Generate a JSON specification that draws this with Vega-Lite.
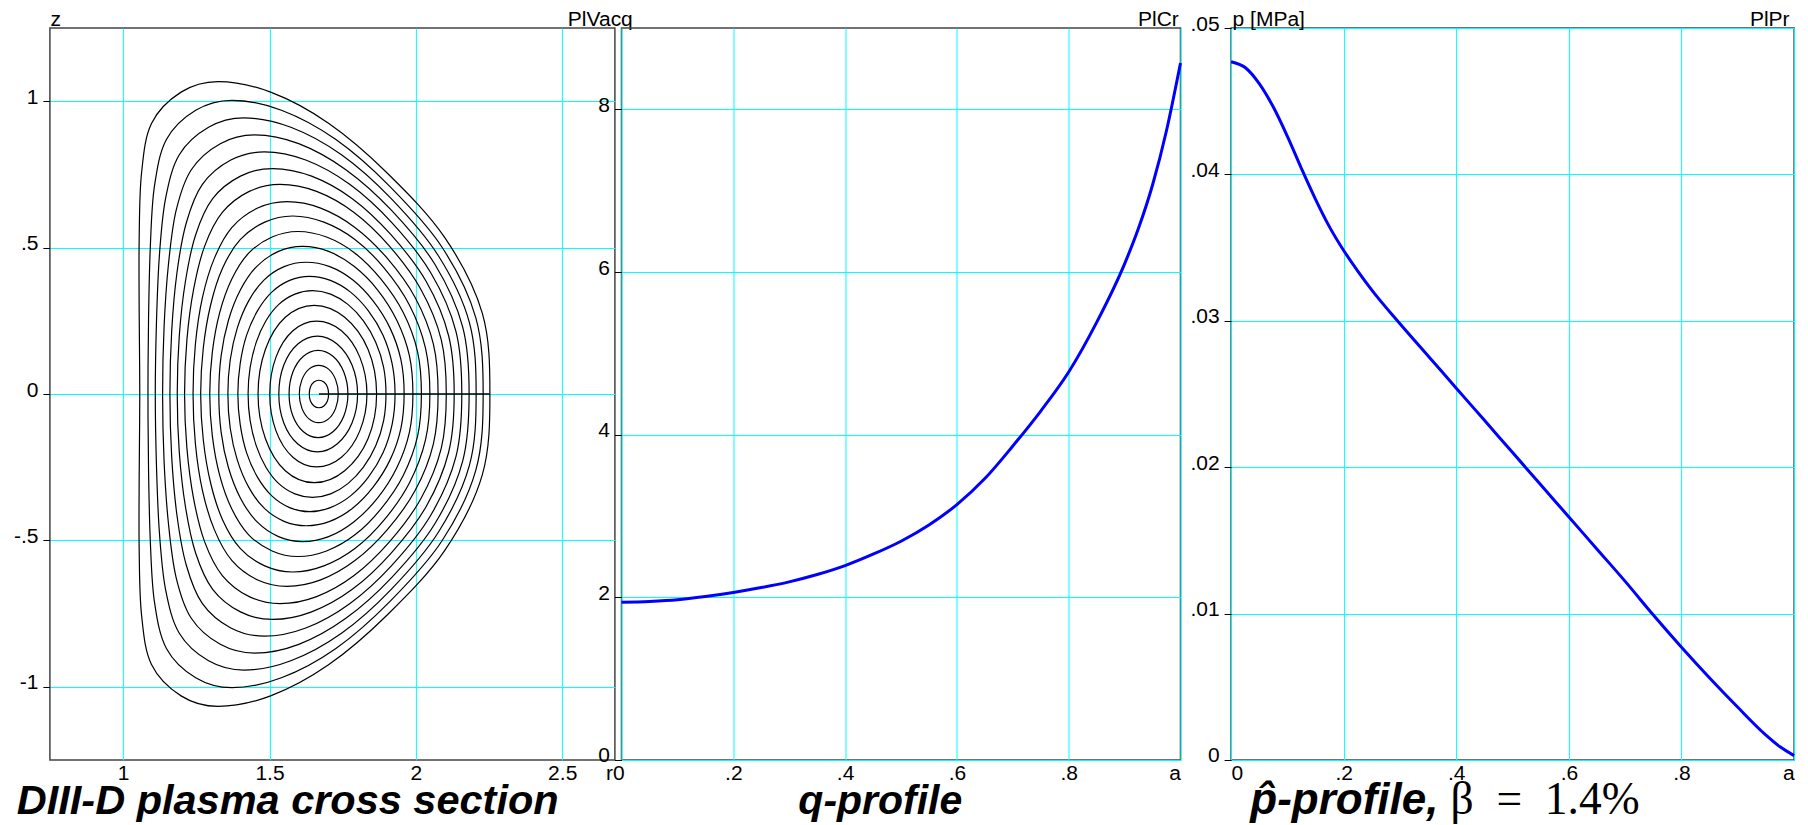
{
"$schema": "https://vega.github.io/schema/vega-lite/v6.json",
"background": "white",
"padding": {"left": 11.9, "top": 7, "right": 0, "bottom": 0},
"config": {
  "font": "Liberation Sans",
  "view": {"stroke": "#444", "strokeWidth": 1.5},
  "axis": {"domain": false, "gridColor": "#00ffff", "gridWidth": 1, "gridOpacity": 1, "labelFont": "Liberation Sans", "labelFontSize": 21, "labelColor": "#000", "tickColor": "#000", "titleFont": "Liberation Sans", "titleFontSize": 21, "titleFontWeight": "normal", "titleColor": "#000"},
  "axisX": {"ticks": false, "labelPadding": 3, "labelFlush": true},
  "axisY": {"tickSize": 7, "labelPadding": 5, "labelBaseline": "alphabetic", "labelOffset": 2}
},
"datasets": {
"cut": [{"R1": 1.669, "R2": 2.253, "z": 0}],
"q": [{"r":0,"q":1.94},{"r":0.05,"q":1.95},{"r":0.1,"q":1.97},{"r":0.15,"q":2.01},{"r":0.2,"q":2.06},{"r":0.25,"q":2.12},{"r":0.3,"q":2.19},{"r":0.35,"q":2.28},{"r":0.4,"q":2.39},{"r":0.45,"q":2.53},{"r":0.5,"q":2.69},{"r":0.55,"q":2.89},{"r":0.6,"q":3.14},{"r":0.65,"q":3.46},{"r":0.7,"q":3.86},{"r":0.75,"q":4.29},{"r":0.8,"q":4.77},{"r":0.85,"q":5.38},{"r":0.9,"q":6.1},{"r":0.925,"q":6.54},{"r":0.95,"q":7.07},{"r":0.975,"q":7.74},{"r":1,"q":8.57}],
"p": [{"r":0,"p":0.0477},{"r":0.025,"p":0.0473},{"r":0.05,"p":0.0462},{"r":0.075,"p":0.0446},{"r":0.1,"p":0.0426},{"r":0.125,"p":0.0404},{"r":0.15,"p":0.0383},{"r":0.175,"p":0.0364},{"r":0.2,"p":0.0348},{"r":0.225,"p":0.0334},{"r":0.25,"p":0.0321},{"r":0.3,"p":0.0298},{"r":0.35,"p":0.0276},{"r":0.4,"p":0.0254},{"r":0.45,"p":0.0232},{"r":0.5,"p":0.021},{"r":0.55,"p":0.0188},{"r":0.6,"p":0.0166},{"r":0.65,"p":0.0144},{"r":0.7,"p":0.0122},{"r":0.75,"p":0.0099},{"r":0.8,"p":0.0077},{"r":0.85,"p":0.0056},{"r":0.9,"p":0.0036},{"r":0.95,"p":0.0017},{"r":0.975,"p":0.0009},{"r":1,"p":0.0003}],
"flux": [
{"c":1,"i":0,"R":1.702,"z":0},{"c":1,"i":1,"R":1.698,"z":0.024},{"c":1,"i":2,"R":1.686,"z":0.041},{"c":1,"i":3,"R":1.669,"z":0.047},{"c":1,"i":4,"R":1.652,"z":0.041},{"c":1,"i":5,"R":1.64,"z":0.024},{"c":1,"i":6,"R":1.636,"z":0},{"c":1,"i":7,"R":1.64,"z":-0.024},{"c":1,"i":8,"R":1.652,"z":-0.041},{"c":1,"i":9,"R":1.669,"z":-0.047},{"c":1,"i":10,"R":1.686,"z":-0.041},{"c":1,"i":11,"R":1.698,"z":-0.024},
{"c":2,"i":0,"R":1.735,"z":0},{"c":2,"i":1,"R":1.726,"z":0.049},{"c":2,"i":2,"R":1.702,"z":0.085},{"c":2,"i":3,"R":1.668,"z":0.098},{"c":2,"i":4,"R":1.635,"z":0.085},{"c":2,"i":5,"R":1.611,"z":0.049},{"c":2,"i":6,"R":1.602,"z":0},{"c":2,"i":7,"R":1.611,"z":-0.049},{"c":2,"i":8,"R":1.635,"z":-0.085},{"c":2,"i":9,"R":1.668,"z":-0.098},{"c":2,"i":10,"R":1.702,"z":-0.085},{"c":2,"i":11,"R":1.726,"z":-0.049},
{"c":3,"i":0,"R":1.768,"z":0},{"c":3,"i":1,"R":1.754,"z":0.075},{"c":3,"i":2,"R":1.717,"z":0.129},{"c":3,"i":3,"R":1.666,"z":0.149},{"c":3,"i":4,"R":1.616,"z":0.129},{"c":3,"i":5,"R":1.58,"z":0.075},{"c":3,"i":6,"R":1.567,"z":0},{"c":3,"i":7,"R":1.58,"z":-0.075},{"c":3,"i":8,"R":1.616,"z":-0.129},{"c":3,"i":9,"R":1.666,"z":-0.149},{"c":3,"i":10,"R":1.717,"z":-0.129},{"c":3,"i":11,"R":1.754,"z":-0.075},
{"c":4,"i":0,"R":1.801,"z":0},{"c":4,"i":1,"R":1.782,"z":0.099},{"c":4,"i":2,"R":1.731,"z":0.171},{"c":4,"i":3,"R":1.664,"z":0.198},{"c":4,"i":4,"R":1.597,"z":0.171},{"c":4,"i":5,"R":1.549,"z":0.099},{"c":4,"i":6,"R":1.532,"z":0},{"c":4,"i":7,"R":1.549,"z":-0.099},{"c":4,"i":8,"R":1.597,"z":-0.171},{"c":4,"i":9,"R":1.664,"z":-0.198},{"c":4,"i":10,"R":1.731,"z":-0.171},{"c":4,"i":11,"R":1.782,"z":-0.099},
{"c":5,"i":0,"R":1.833,"z":0},{"c":5,"i":1,"R":1.809,"z":0.125},{"c":5,"i":2,"R":1.746,"z":0.216},{"c":5,"i":3,"R":1.661,"z":0.249},{"c":5,"i":4,"R":1.58,"z":0.216},{"c":5,"i":5,"R":1.522,"z":0.125},{"c":5,"i":6,"R":1.501,"z":0},{"c":5,"i":7,"R":1.522,"z":-0.125},{"c":5,"i":8,"R":1.58,"z":-0.216},{"c":5,"i":9,"R":1.661,"z":-0.249},{"c":5,"i":10,"R":1.746,"z":-0.216},{"c":5,"i":11,"R":1.809,"z":-0.125},
{"c":6,"i":0,"R":1.866,"z":0},{"c":6,"i":1,"R":1.837,"z":0.152},{"c":6,"i":2,"R":1.757,"z":0.262},{"c":6,"i":3,"R":1.653,"z":0.303},{"c":6,"i":4,"R":1.554,"z":0.262},{"c":6,"i":5,"R":1.486,"z":0.152},{"c":6,"i":6,"R":1.461,"z":0},{"c":6,"i":7,"R":1.486,"z":-0.152},{"c":6,"i":8,"R":1.554,"z":-0.262},{"c":6,"i":9,"R":1.653,"z":-0.303},{"c":6,"i":10,"R":1.757,"z":-0.262},{"c":6,"i":11,"R":1.837,"z":-0.152},
{"c":7,"i":0,"R":1.898,"z":0},{"c":7,"i":1,"R":1.89,"z":0.091},{"c":7,"i":2,"R":1.863,"z":0.177},{"c":7,"i":3,"R":1.821,"z":0.25},{"c":7,"i":4,"R":1.768,"z":0.306},{"c":7,"i":5,"R":1.709,"z":0.341},{"c":7,"i":6,"R":1.647,"z":0.353},{"c":7,"i":7,"R":1.587,"z":0.341},{"c":7,"i":8,"R":1.532,"z":0.306},{"c":7,"i":9,"R":1.488,"z":0.25},{"c":7,"i":10,"R":1.455,"z":0.177},{"c":7,"i":11,"R":1.434,"z":0.091},{"c":7,"i":12,"R":1.427,"z":0},{"c":7,"i":13,"R":1.434,"z":-0.091},{"c":7,"i":14,"R":1.455,"z":-0.177},{"c":7,"i":15,"R":1.488,"z":-0.25},{"c":7,"i":16,"R":1.532,"z":-0.306},{"c":7,"i":17,"R":1.587,"z":-0.341},{"c":7,"i":18,"R":1.647,"z":-0.353},{"c":7,"i":19,"R":1.709,"z":-0.341},{"c":7,"i":20,"R":1.768,"z":-0.306},{"c":7,"i":21,"R":1.821,"z":-0.25},{"c":7,"i":22,"R":1.863,"z":-0.177},{"c":7,"i":23,"R":1.89,"z":-0.091},
{"c":8,"i":0,"R":1.929,"z":0},{"c":8,"i":1,"R":1.919,"z":0.104},{"c":8,"i":2,"R":1.888,"z":0.201},{"c":8,"i":3,"R":1.838,"z":0.284},{"c":8,"i":4,"R":1.777,"z":0.348},{"c":8,"i":5,"R":1.708,"z":0.388},{"c":8,"i":6,"R":1.637,"z":0.402},{"c":8,"i":7,"R":1.569,"z":0.388},{"c":8,"i":8,"R":1.508,"z":0.348},{"c":8,"i":9,"R":1.459,"z":0.284},{"c":8,"i":10,"R":1.422,"z":0.201},{"c":8,"i":11,"R":1.4,"z":0.104},{"c":8,"i":12,"R":1.392,"z":0},{"c":8,"i":13,"R":1.4,"z":-0.104},{"c":8,"i":14,"R":1.422,"z":-0.201},{"c":8,"i":15,"R":1.459,"z":-0.284},{"c":8,"i":16,"R":1.508,"z":-0.348},{"c":8,"i":17,"R":1.569,"z":-0.388},{"c":8,"i":18,"R":1.637,"z":-0.402},{"c":8,"i":19,"R":1.708,"z":-0.388},{"c":8,"i":20,"R":1.777,"z":-0.348},{"c":8,"i":21,"R":1.838,"z":-0.284},{"c":8,"i":22,"R":1.888,"z":-0.201},{"c":8,"i":23,"R":1.919,"z":-0.104},
{"c":9,"i":0,"R":1.96,"z":0},{"c":9,"i":1,"R":1.949,"z":0.117},{"c":9,"i":2,"R":1.912,"z":0.225},{"c":9,"i":3,"R":1.854,"z":0.318},{"c":9,"i":4,"R":1.784,"z":0.39},{"c":9,"i":5,"R":1.706,"z":0.435},{"c":9,"i":6,"R":1.625,"z":0.45},{"c":9,"i":7,"R":1.55,"z":0.435},{"c":9,"i":8,"R":1.482,"z":0.39},{"c":9,"i":9,"R":1.429,"z":0.318},{"c":9,"i":10,"R":1.39,"z":0.225},{"c":9,"i":11,"R":1.366,"z":0.117},{"c":9,"i":12,"R":1.358,"z":0},{"c":9,"i":13,"R":1.366,"z":-0.117},{"c":9,"i":14,"R":1.39,"z":-0.225},{"c":9,"i":15,"R":1.429,"z":-0.318},{"c":9,"i":16,"R":1.482,"z":-0.39},{"c":9,"i":17,"R":1.55,"z":-0.435},{"c":9,"i":18,"R":1.625,"z":-0.45},{"c":9,"i":19,"R":1.706,"z":-0.435},{"c":9,"i":20,"R":1.784,"z":-0.39},{"c":9,"i":21,"R":1.854,"z":-0.318},{"c":9,"i":22,"R":1.912,"z":-0.225},{"c":9,"i":23,"R":1.949,"z":-0.117},
{"c":10,"i":0,"R":1.99,"z":0},{"c":10,"i":1,"R":1.978,"z":0.131},{"c":10,"i":2,"R":1.935,"z":0.252},{"c":10,"i":3,"R":1.869,"z":0.356},{"c":10,"i":4,"R":1.789,"z":0.436},{"c":10,"i":5,"R":1.702,"z":0.487},{"c":10,"i":6,"R":1.613,"z":0.504},{"c":10,"i":7,"R":1.531,"z":0.487},{"c":10,"i":8,"R":1.457,"z":0.436},{"c":10,"i":9,"R":1.401,"z":0.356},{"c":10,"i":10,"R":1.36,"z":0.252},{"c":10,"i":11,"R":1.335,"z":0.131},{"c":10,"i":12,"R":1.327,"z":0},{"c":10,"i":13,"R":1.335,"z":-0.131},{"c":10,"i":14,"R":1.36,"z":-0.252},{"c":10,"i":15,"R":1.401,"z":-0.356},{"c":10,"i":16,"R":1.457,"z":-0.436},{"c":10,"i":17,"R":1.531,"z":-0.487},{"c":10,"i":18,"R":1.613,"z":-0.504},{"c":10,"i":19,"R":1.702,"z":-0.487},{"c":10,"i":20,"R":1.789,"z":-0.436},{"c":10,"i":21,"R":1.869,"z":-0.356},{"c":10,"i":22,"R":1.935,"z":-0.252},{"c":10,"i":23,"R":1.978,"z":-0.131},
{"c":11,"i":0,"R":2.019,"z":0},{"c":11,"i":1,"R":2.006,"z":0.144},{"c":11,"i":2,"R":1.957,"z":0.278},{"c":11,"i":3,"R":1.881,"z":0.392},{"c":11,"i":4,"R":1.792,"z":0.481},{"c":11,"i":5,"R":1.695,"z":0.536},{"c":11,"i":6,"R":1.597,"z":0.555},{"c":11,"i":7,"R":1.509,"z":0.536},{"c":11,"i":8,"R":1.429,"z":0.481},{"c":11,"i":9,"R":1.371,"z":0.392},{"c":11,"i":10,"R":1.33,"z":0.278},{"c":11,"i":11,"R":1.305,"z":0.144},{"c":11,"i":12,"R":1.296,"z":0},{"c":11,"i":13,"R":1.305,"z":-0.144},{"c":11,"i":14,"R":1.33,"z":-0.278},{"c":11,"i":15,"R":1.371,"z":-0.392},{"c":11,"i":16,"R":1.429,"z":-0.481},{"c":11,"i":17,"R":1.509,"z":-0.536},{"c":11,"i":18,"R":1.597,"z":-0.555},{"c":11,"i":19,"R":1.695,"z":-0.536},{"c":11,"i":20,"R":1.792,"z":-0.481},{"c":11,"i":21,"R":1.881,"z":-0.392},{"c":11,"i":22,"R":1.957,"z":-0.278},{"c":11,"i":23,"R":2.006,"z":-0.144},
{"c":12,"i":0,"R":2.048,"z":0},{"c":12,"i":1,"R":2.033,"z":0.157},{"c":12,"i":2,"R":1.978,"z":0.304},{"c":12,"i":3,"R":1.892,"z":0.43},{"c":12,"i":4,"R":1.793,"z":0.527},{"c":12,"i":5,"R":1.686,"z":0.587},{"c":12,"i":6,"R":1.579,"z":0.608},{"c":12,"i":7,"R":1.484,"z":0.587},{"c":12,"i":8,"R":1.4,"z":0.527},{"c":12,"i":9,"R":1.34,"z":0.43},{"c":12,"i":10,"R":1.299,"z":0.304},{"c":12,"i":11,"R":1.274,"z":0.157},{"c":12,"i":12,"R":1.265,"z":0},{"c":12,"i":13,"R":1.274,"z":-0.157},{"c":12,"i":14,"R":1.299,"z":-0.304},{"c":12,"i":15,"R":1.34,"z":-0.43},{"c":12,"i":16,"R":1.4,"z":-0.527},{"c":12,"i":17,"R":1.484,"z":-0.587},{"c":12,"i":18,"R":1.579,"z":-0.608},{"c":12,"i":19,"R":1.686,"z":-0.587},{"c":12,"i":20,"R":1.793,"z":-0.527},{"c":12,"i":21,"R":1.892,"z":-0.43},{"c":12,"i":22,"R":1.978,"z":-0.304},{"c":12,"i":23,"R":2.033,"z":-0.157},
{"c":13,"i":0,"R":2.076,"z":0},{"c":13,"i":1,"R":2.06,"z":0.17},{"c":13,"i":2,"R":1.998,"z":0.329},{"c":13,"i":3,"R":1.902,"z":0.464},{"c":13,"i":4,"R":1.792,"z":0.569},{"c":13,"i":5,"R":1.675,"z":0.635},{"c":13,"i":6,"R":1.56,"z":0.657},{"c":13,"i":7,"R":1.46,"z":0.635},{"c":13,"i":8,"R":1.372,"z":0.569},{"c":13,"i":9,"R":1.312,"z":0.464},{"c":13,"i":10,"R":1.271,"z":0.329},{"c":13,"i":11,"R":1.247,"z":0.17},{"c":13,"i":12,"R":1.239,"z":0},{"c":13,"i":13,"R":1.247,"z":-0.17},{"c":13,"i":14,"R":1.271,"z":-0.329},{"c":13,"i":15,"R":1.312,"z":-0.464},{"c":13,"i":16,"R":1.372,"z":-0.569},{"c":13,"i":17,"R":1.46,"z":-0.635},{"c":13,"i":18,"R":1.56,"z":-0.657},{"c":13,"i":19,"R":1.675,"z":-0.635},{"c":13,"i":20,"R":1.792,"z":-0.569},{"c":13,"i":21,"R":1.902,"z":-0.464},{"c":13,"i":22,"R":1.998,"z":-0.329},{"c":13,"i":23,"R":2.06,"z":-0.17},
{"c":14,"i":0,"R":2.104,"z":0},{"c":14,"i":1,"R":2.087,"z":0.185},{"c":14,"i":2,"R":2.017,"z":0.358},{"c":14,"i":3,"R":1.909,"z":0.506},{"c":14,"i":4,"R":1.789,"z":0.62},{"c":14,"i":5,"R":1.661,"z":0.692},{"c":14,"i":6,"R":1.536,"z":0.716},{"c":14,"i":7,"R":1.431,"z":0.692},{"c":14,"i":8,"R":1.339,"z":0.62},{"c":14,"i":9,"R":1.279,"z":0.506},{"c":14,"i":10,"R":1.241,"z":0.358},{"c":14,"i":11,"R":1.218,"z":0.185},{"c":14,"i":12,"R":1.21,"z":0},{"c":14,"i":13,"R":1.218,"z":-0.185},{"c":14,"i":14,"R":1.241,"z":-0.358},{"c":14,"i":15,"R":1.279,"z":-0.506},{"c":14,"i":16,"R":1.339,"z":-0.62},{"c":14,"i":17,"R":1.431,"z":-0.692},{"c":14,"i":18,"R":1.536,"z":-0.716},{"c":14,"i":19,"R":1.661,"z":-0.692},{"c":14,"i":20,"R":1.789,"z":-0.62},{"c":14,"i":21,"R":1.909,"z":-0.506},{"c":14,"i":22,"R":2.017,"z":-0.358},{"c":14,"i":23,"R":2.087,"z":-0.185},
{"c":15,"i":0,"R":2.131,"z":0},{"c":15,"i":1,"R":2.112,"z":0.199},{"c":15,"i":2,"R":2.035,"z":0.385},{"c":15,"i":3,"R":1.915,"z":0.544},{"c":15,"i":4,"R":1.783,"z":0.667},{"c":15,"i":5,"R":1.644,"z":0.744},{"c":15,"i":6,"R":1.511,"z":0.77},{"c":15,"i":7,"R":1.401,"z":0.744},{"c":15,"i":8,"R":1.306,"z":0.667},{"c":15,"i":9,"R":1.248,"z":0.544},{"c":15,"i":10,"R":1.213,"z":0.385},{"c":15,"i":11,"R":1.192,"z":0.199},{"c":15,"i":12,"R":1.185,"z":0},{"c":15,"i":13,"R":1.192,"z":-0.199},{"c":15,"i":14,"R":1.213,"z":-0.385},{"c":15,"i":15,"R":1.248,"z":-0.544},{"c":15,"i":16,"R":1.306,"z":-0.667},{"c":15,"i":17,"R":1.401,"z":-0.744},{"c":15,"i":18,"R":1.511,"z":-0.77},{"c":15,"i":19,"R":1.644,"z":-0.744},{"c":15,"i":20,"R":1.783,"z":-0.667},{"c":15,"i":21,"R":1.915,"z":-0.544},{"c":15,"i":22,"R":2.035,"z":-0.385},{"c":15,"i":23,"R":2.112,"z":-0.199},
{"c":16,"i":0,"R":2.157,"z":0},{"c":16,"i":1,"R":2.137,"z":0.214},{"c":16,"i":2,"R":2.051,"z":0.414},{"c":16,"i":3,"R":1.918,"z":0.585},{"c":16,"i":4,"R":1.774,"z":0.716},{"c":16,"i":5,"R":1.624,"z":0.799},{"c":16,"i":6,"R":1.482,"z":0.827},{"c":16,"i":7,"R":1.368,"z":0.799},{"c":16,"i":8,"R":1.271,"z":0.716},{"c":16,"i":9,"R":1.216,"z":0.585},{"c":16,"i":10,"R":1.184,"z":0.414},{"c":16,"i":11,"R":1.166,"z":0.214},{"c":16,"i":12,"R":1.16,"z":0},{"c":16,"i":13,"R":1.166,"z":-0.214},{"c":16,"i":14,"R":1.184,"z":-0.414},{"c":16,"i":15,"R":1.216,"z":-0.585},{"c":16,"i":16,"R":1.271,"z":-0.716},{"c":16,"i":17,"R":1.368,"z":-0.799},{"c":16,"i":18,"R":1.482,"z":-0.827},{"c":16,"i":19,"R":1.624,"z":-0.799},{"c":16,"i":20,"R":1.774,"z":-0.716},{"c":16,"i":21,"R":1.918,"z":-0.585},{"c":16,"i":22,"R":2.051,"z":-0.414},{"c":16,"i":23,"R":2.137,"z":-0.214},
{"c":17,"i":0,"R":2.182,"z":0},{"c":17,"i":1,"R":2.16,"z":0.229},{"c":17,"i":2,"R":2.065,"z":0.443},{"c":17,"i":3,"R":1.918,"z":0.626},{"c":17,"i":4,"R":1.761,"z":0.766},{"c":17,"i":5,"R":1.6,"z":0.855},{"c":17,"i":6,"R":1.449,"z":0.885},{"c":17,"i":7,"R":1.332,"z":0.855},{"c":17,"i":8,"R":1.233,"z":0.766},{"c":17,"i":9,"R":1.181,"z":0.626},{"c":17,"i":10,"R":1.155,"z":0.443},{"c":17,"i":11,"R":1.14,"z":0.229},{"c":17,"i":12,"R":1.135,"z":0},{"c":17,"i":13,"R":1.14,"z":-0.229},{"c":17,"i":14,"R":1.155,"z":-0.443},{"c":17,"i":15,"R":1.181,"z":-0.626},{"c":17,"i":16,"R":1.233,"z":-0.766},{"c":17,"i":17,"R":1.332,"z":-0.855},{"c":17,"i":18,"R":1.449,"z":-0.885},{"c":17,"i":19,"R":1.6,"z":-0.855},{"c":17,"i":20,"R":1.761,"z":-0.766},{"c":17,"i":21,"R":1.918,"z":-0.626},{"c":17,"i":22,"R":2.065,"z":-0.443},{"c":17,"i":23,"R":2.16,"z":-0.229},
{"c":18,"i":0,"R":2.206,"z":0},{"c":18,"i":1,"R":2.183,"z":0.244},{"c":18,"i":2,"R":2.077,"z":0.472},{"c":18,"i":3,"R":1.916,"z":0.667},{"c":18,"i":4,"R":1.746,"z":0.817},{"c":18,"i":5,"R":1.573,"z":0.911},{"c":18,"i":6,"R":1.413,"z":0.943},{"c":18,"i":7,"R":1.292,"z":0.911},{"c":18,"i":8,"R":1.192,"z":0.817},{"c":18,"i":9,"R":1.145,"z":0.667},{"c":18,"i":10,"R":1.124,"z":0.472},{"c":18,"i":11,"R":1.114,"z":0.244},{"c":18,"i":12,"R":1.11,"z":0},{"c":18,"i":13,"R":1.114,"z":-0.244},{"c":18,"i":14,"R":1.124,"z":-0.472},{"c":18,"i":15,"R":1.145,"z":-0.667},{"c":18,"i":16,"R":1.192,"z":-0.817},{"c":18,"i":17,"R":1.292,"z":-0.911},{"c":18,"i":18,"R":1.413,"z":-0.943},{"c":18,"i":19,"R":1.573,"z":-0.911},{"c":18,"i":20,"R":1.746,"z":-0.817},{"c":18,"i":21,"R":1.916,"z":-0.667},{"c":18,"i":22,"R":2.077,"z":-0.472},{"c":18,"i":23,"R":2.183,"z":-0.244},
{"c":19,"i":0,"R":2.23,"z":0},{"c":19,"i":1,"R":2.205,"z":0.26},{"c":19,"i":2,"R":2.089,"z":0.502},{"c":19,"i":3,"R":1.911,"z":0.709},{"c":19,"i":4,"R":1.727,"z":0.869},{"c":19,"i":5,"R":1.541,"z":0.969},{"c":19,"i":6,"R":1.372,"z":1.003},{"c":19,"i":7,"R":1.248,"z":0.969},{"c":19,"i":8,"R":1.148,"z":0.869},{"c":19,"i":9,"R":1.107,"z":0.709},{"c":19,"i":10,"R":1.093,"z":0.502},{"c":19,"i":11,"R":1.087,"z":0.26},{"c":19,"i":12,"R":1.085,"z":0},{"c":19,"i":13,"R":1.087,"z":-0.26},{"c":19,"i":14,"R":1.093,"z":-0.502},{"c":19,"i":15,"R":1.107,"z":-0.709},{"c":19,"i":16,"R":1.148,"z":-0.869},{"c":19,"i":17,"R":1.248,"z":-0.969},{"c":19,"i":18,"R":1.372,"z":-1.003},{"c":19,"i":19,"R":1.541,"z":-0.969},{"c":19,"i":20,"R":1.727,"z":-0.869},{"c":19,"i":21,"R":1.911,"z":-0.709},{"c":19,"i":22,"R":2.089,"z":-0.502},{"c":19,"i":23,"R":2.205,"z":-0.26},
{"c":20,"i":0,"R":2.253,"z":0},{"c":20,"i":1,"R":2.227,"z":0.276},{"c":20,"i":2,"R":2.099,"z":0.534},{"c":20,"i":3,"R":1.903,"z":0.754},{"c":20,"i":4,"R":1.703,"z":0.924},{"c":20,"i":5,"R":1.504,"z":1.031},{"c":20,"i":6,"R":1.324,"z":1.067},{"c":20,"i":7,"R":1.198,"z":1.031},{"c":20,"i":8,"R":1.097,"z":0.924},{"c":20,"i":9,"R":1.063,"z":0.754},{"c":20,"i":10,"R":1.055,"z":0.534},{"c":20,"i":11,"R":1.055,"z":0.276},{"c":20,"i":12,"R":1.057,"z":0},{"c":20,"i":13,"R":1.055,"z":-0.276},{"c":20,"i":14,"R":1.055,"z":-0.534},{"c":20,"i":15,"R":1.063,"z":-0.754},{"c":20,"i":16,"R":1.097,"z":-0.924},{"c":20,"i":17,"R":1.198,"z":-1.031},{"c":20,"i":18,"R":1.324,"z":-1.067},{"c":20,"i":19,"R":1.504,"z":-1.031},{"c":20,"i":20,"R":1.703,"z":-0.924},{"c":20,"i":21,"R":1.903,"z":-0.754},{"c":20,"i":22,"R":2.099,"z":-0.534},{"c":20,"i":23,"R":2.227,"z":-0.276}
]
},
"hconcat": [
 {
  "concat": [
   {
    "width": 565, "height": 732,
    "layer": [
     {
      "data": {"name": "flux"},
      "mark": {"type": "line", "interpolate": "cardinal-closed", "color": "#000", "strokeWidth": 1.2},
      "encoding": {
       "x": {"field": "R", "type": "quantitative", "scale": {"domain": [0.75, 2.68], "nice": false, "zero": false},
             "axis": {"values": [1, 1.5, 2, 2.5], "labelExpr": "toString(datum.value)", "title": "DIII-D plasma cross section", "titleX": -33.6, "titleY": 54, "titleAlign": "left", "titleBaseline": "alphabetic", "titleFontSize": 41.5, "titleFontStyle": "italic", "titleFontWeight": "bold"}},
       "y": {"field": "z", "type": "quantitative", "scale": {"domain": [-1.25, 1.25], "nice": false, "zero": false},
             "axis": {"values": [-1, -0.5, 0, 0.5, 1], "labelExpr": "replace(toString(datum.value), '0.', '.')", "title": "z", "titleAngle": 0, "titleX": 0, "titleY": -2.3, "titleAlign": "left", "titleBaseline": "alphabetic"}},
       "detail": {"field": "c", "type": "nominal"},
       "order": {"field": "i", "type": "quantitative"}
      }
     },
     {
      "data": {"name": "cut"},
      "mark": {"type": "rule", "color": "#000", "strokeWidth": 1.5},
      "encoding": {
       "x": {"field": "R1", "type": "quantitative", "scale": {"domain": [0.75, 2.68], "nice": false, "zero": false},
             "axis": {"orient": "top", "labels": false, "ticks": false, "grid": false, "domain": false, "title": "PlVacq", "titleX": 582.4, "titleY": -2.3, "titleAlign": "right", "titleBaseline": "alphabetic"}},
       "x2": {"field": "R2"},
       "y": {"field": "z", "type": "quantitative", "scale": {"domain": [-1.25, 1.25], "nice": false, "zero": false},
             "axis": {"values": [-1, -0.5, 0, 0.5, 1], "labelExpr": "replace(toString(datum.value), '0.', '.')", "title": "z", "titleAngle": 0, "titleX": 0, "titleY": -2.3, "titleAlign": "left", "titleBaseline": "alphabetic"}}
      }
     }
    ],
    "resolve": {"axis": {"x": "independent"}}
   },
   {
    "width": 559, "height": 732,
    "data": {"name": "q"},
    "mark": {"type": "line", "color": "#0000ff", "strokeWidth": 3, "interpolate": "monotone"},
    "encoding": {
     "x": {"field": "r", "type": "quantitative", "scale": {"domain": [0, 1], "nice": false},
           "axis": {"values": [0, 0.2, 0.4, 0.6, 0.8, 1], "labelExpr": "datum.value == 0 ? 'r0' : datum.value == 1 ? 'a' : replace(toString(datum.value), '0.', '.')", "labelOffset": {"condition": {"test": "datum.value == 0", "value": -16}, "value": 0}, "title": "q-profile", "titleX": 258.3, "titleY": 54, "titleAlign": "center", "titleBaseline": "alphabetic", "titleFontSize": 41, "titleFontStyle": "italic", "titleFontWeight": "bold"}},
     "y": {"field": "q", "type": "quantitative", "scale": {"domain": [0, 9], "nice": false},
           "axis": {"values": [0, 2, 4, 6, 8], "title": "PlCr", "titleAngle": 0, "titleX": 556.8, "titleY": -2.3, "titleAlign": "right", "titleBaseline": "alphabetic"}}
    }
   }
  ],
  "columns": 2,
  "align": "none",
  "spacing": -37.4
 },
 {
  "width": 563, "height": 732,
  "layer": [
   {
    "data": {"name": "p"},
    "mark": {"type": "line", "color": "#0000ff", "strokeWidth": 3, "interpolate": "monotone"},
    "encoding": {
     "x": {"field": "r", "type": "quantitative", "scale": {"domain": [0, 1], "nice": false},
           "axis": {"values": [0, 0.2, 0.4, 0.6, 0.8, 1], "labelExpr": "datum.value == 1 ? 'a' : replace(toString(datum.value), '0.', '.')", "title": "p\u0302-profile,", "titleX": 18.7, "titleY": 54, "titleAlign": "left", "titleBaseline": "alphabetic", "titleFontSize": 44, "titleFontStyle": "italic", "titleFontWeight": "bold"}},
     "y": {"field": "p", "type": "quantitative", "scale": {"domain": [0, 0.05], "nice": false},
           "axis": {"values": [0, 0.01, 0.02, 0.03, 0.04, 0.05], "labelExpr": "replace(toString(datum.value), '0.', '.')", "title": "p [MPa]", "titleAngle": 0, "titleX": 1, "titleY": -2.3, "titleAlign": "left", "titleBaseline": "alphabetic"}}
    }
   },
   {
    "data": {"name": "p"},
    "mark": {"type": "line", "opacity": 0},
    "encoding": {
     "x": {"field": "r", "type": "quantitative", "scale": {"domain": [0, 1], "nice": false},
           "axis": {"orient": "top", "labels": false, "ticks": false, "grid": false, "domain": false, "title": "PlPr", "titleX": 558, "titleY": -2.3, "titleAlign": "right", "titleBaseline": "alphabetic"}},
     "y": {"field": "p", "type": "quantitative", "scale": {"domain": [0, 0.05], "nice": false},
           "axis": {"orient": "right", "labels": false, "ticks": false, "grid": false, "domain": false, "title": "β\u2002=\u20021.4%", "titleAngle": 0, "titleX": -344, "titleY": 786, "titleAlign": "left", "titleBaseline": "alphabetic", "titleFont": "Liberation Serif", "titleFontSize": 45.5, "titleFontWeight": "normal", "titleFontStyle": "normal"}}
    }
   }
  ],
  "resolve": {"axis": {"x": "independent", "y": "independent"}}
 }
],
"spacing": 1.2
}
